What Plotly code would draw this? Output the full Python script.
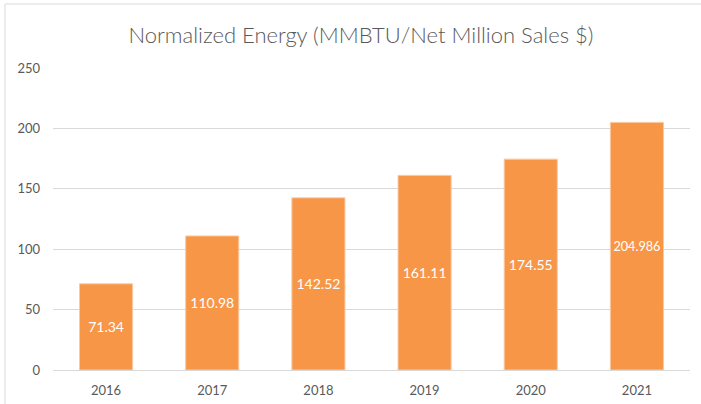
import plotly.graph_objects as go

years = ["2016", "2017", "2018", "2019", "2020", "2021"]
energy = [71.34, 110.98, 142.52, 161.11, 174.55, 204.986]
labels = ["71.34", "110.98", "142.52", "161.11", "174.55", "204.986"]

fig = go.Figure(go.Bar(
    x=years,
    y=energy,
    text=labels,
    textposition="inside",
    insidetextanchor="middle",
    textangle=0,
    textfont=dict(color="white", size=14, family="Lato"),
    marker=dict(color="#F79646", line=dict(color="#FBC9A0", width=1)),
    width=0.5,
))

fig.update_layout(
    width=701, height=404,
    margin=dict(l=53, r=11, t=68, b=34),
    paper_bgcolor="white", plot_bgcolor="white",
    font=dict(family="Lato", color="#595959"),
    title=dict(text="Normalized Energy (MMBTU/Net Million Sales $)",
               x=0.515, xanchor="center", y=0.912, yanchor="middle",
               font=dict(size=22, color="#595959", family="Lato", weight=300)),
    showlegend=False,
    xaxis=dict(showgrid=False, showline=True, linecolor="#D9D9D9", linewidth=1,
               tickfont=dict(size=13), ticks="", ticklabelstandoff=8,
               automargin=False),
    yaxis=dict(range=[0, 250], dtick=50, showgrid=True, gridcolor="#D9D9D9",
               gridwidth=1, zeroline=False, showline=False,
               tickfont=dict(size=13), ticklabelstandoff=12, automargin=False),
    shapes=[dict(type="rect", xref="paper", yref="paper",
                 x0=-0.0754, x1=1.2, y0=-0.3, y1=1.212,
                 line=dict(color="#D9D9D9", width=1), layer="below")],
)

# drop the browser's default body margin so the figure sits at 0,0
fig.write_html("out.html", config={"displayModeBar": False},
               post_script="document.body.style.margin='0';")
